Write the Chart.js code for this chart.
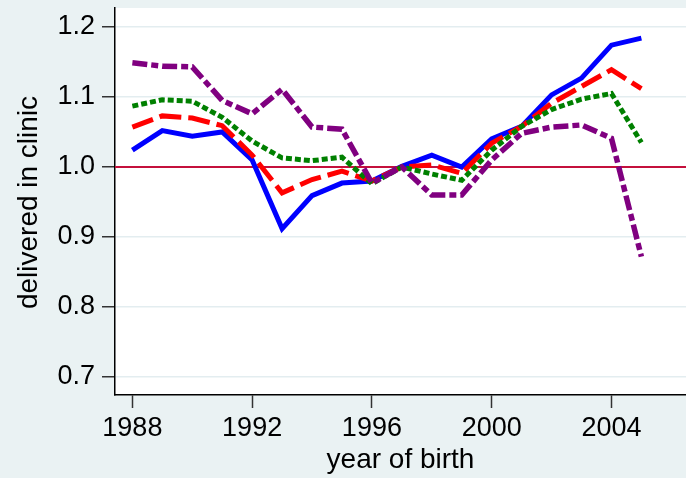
<!DOCTYPE html>
<html>
<head>
<meta charset="utf-8">
<script src="https://cdn.jsdelivr.net/npm/chart.js@4/dist/chart.umd.min.js"></script>
<style>
  html, body { margin: 0; padding: 0; background: #eaf2f3; }
  #wrap { width: 686px; height: 478px; }
</style>
</head>
<body>
<div id="wrap"><canvas id="chart" width="686" height="478"></canvas></div>
<script>
// Birth years on the horizontal axis
const years = [1988, 1989, 1990, 1991, 1992, 1993, 1994, 1995, 1996,
               1997, 1998, 1999, 2000, 2001, 2002, 2003, 2004, 2005];

// Ratio of births delivered in a clinic, one series per group
const seriesSolid   = [1.024, 1.052, 1.044, 1.050, 1.010, 0.912, 0.959, 0.977, 0.980,
                       1.001, 1.017, 1.000, 1.040, 1.058, 1.103, 1.127, 1.174, 1.184];
const seriesDash    = [1.057, 1.073, 1.070, 1.059, 1.017, 0.963, 0.982, 0.994, 0.980,
                       1.000, 1.003, 0.991, 1.034, 1.058, 1.091, 1.115, 1.139, 1.112];
const seriesDot     = [1.087, 1.096, 1.094, 1.071, 1.037, 1.013, 1.009, 1.014, 0.976,
                       1.000, 0.990, 0.981, 1.024, 1.058, 1.082, 1.097, 1.105, 1.035];
const seriesDashDot = [1.149, 1.144, 1.143, 1.095, 1.076, 1.111, 1.057, 1.054, 0.977,
                       1.000, 0.960, 0.960, 1.010, 1.048, 1.057, 1.060, 1.041, 0.872];

// Axis ticks
const xTicks = [1988, 1992, 1996, 2000, 2004];
const yTicks = [0.7, 0.8, 0.9, 1.0, 1.1, 1.2];

// Horizontal reference line
const referenceValue = 1.0;

const xTitle = 'year of birth';
const yTitle = 'delivered in clinic';

const FONT = '"Liberation Sans", Arial, Helvetica, sans-serif';
const BG = '#eaf2f3';

const toPoints = vals => vals.map((v, i) => ({ x: years[i], y: v }));

const backgroundPlugin = {
  id: 'panelBackground',
  beforeDraw(chart) {
    const { ctx, chartArea: a } = chart;
    ctx.save();
    ctx.fillStyle = BG;
    ctx.fillRect(0, 0, chart.width, chart.height);
    ctx.fillStyle = '#ffffff';
    ctx.fillRect(a.left, a.top, a.right - a.left, a.bottom - a.top);
    ctx.restore();
  }
};

const referenceLinePlugin = {
  id: 'referenceLine',
  beforeDatasetsDraw(chart) {
    const { ctx, chartArea: a, scales } = chart;
    const y = scales.y.getPixelForValue(referenceValue);
    ctx.save();
    ctx.strokeStyle = '#c4103c';
    ctx.lineWidth = 2.2;
    ctx.beginPath();
    ctx.moveTo(a.left, y);
    ctx.lineTo(a.right, y);
    ctx.stroke();
    ctx.restore();
  }
};

const axisTitlePlugin = {
  id: 'axisTitles',
  afterDraw(chart) {
    const { ctx, chartArea: a } = chart;
    ctx.save();
    ctx.fillStyle = '#000';
    ctx.font = '28px ' + FONT;
    ctx.textAlign = 'center';
    ctx.textBaseline = 'alphabetic';
    ctx.fillText(xTitle, (a.left + a.right) / 2, 468);
    ctx.translate(36.5, (a.top + a.bottom) / 2 + 1);
    ctx.rotate(-Math.PI / 2);
    ctx.fillText(yTitle, 0, 0);
    ctx.restore();
  }
};

const lineStyle = (color, dash, width) => ({
  borderColor: color,
  backgroundColor: color,
  borderWidth: width,
  borderDash: dash,
  borderCapStyle: 'butt',
  borderJoinStyle: 'miter',
  pointRadius: 0,
  tension: 0,
  fill: false
});

new Chart(document.getElementById('chart'), {
  type: 'line',
  data: {
    datasets: [
      Object.assign({ label: 'dash-dot', data: toPoints(seriesDashDot) }, lineStyle('#800080', [15, 4, 7, 4], 5.5)),
      Object.assign({ label: 'dot',      data: toPoints(seriesDot) },     lineStyle('#008000', [6, 3], 5)),
      Object.assign({ label: 'dash',     data: toPoints(seriesDash) },    lineStyle('#ff0000', [22, 7], 5)),
      Object.assign({ label: 'solid',    data: toPoints(seriesSolid) },   lineStyle('#0000ff', [], 5))
    ]
  },
  options: {
    responsive: false,
    animation: false,
    devicePixelRatio: 1,
    layout: { padding: { top: 8, right: 0, bottom: 0, left: 0 } },
    plugins: { legend: { display: false }, tooltip: { enabled: false } },
    scales: {
      x: {
        type: 'linear',
        min: 1987.42,
        max: 2006.49,
        afterBuildTicks: s => { s.ticks = xTicks.map(v => ({ value: v })); },
        afterFit: s => { s.height = 83; s.paddingLeft = 0; s.paddingRight = 0; },
        grid: { drawOnChartArea: false, tickLength: 13, tickColor: '#333', tickWidth: 1.5 },
        border: { color: '#000', width: 1.5 },
        ticks: {
          font: { family: FONT, size: 27 },
          color: '#000',
          padding: 4,
          maxRotation: 0,
          autoSkip: false,
          callback: v => String(v)
        }
      },
      y: {
        min: 0.6743,
        max: 1.2271,
        afterBuildTicks: s => { s.ticks = yTicks.map(v => ({ value: v })); },
        afterFit: s => { s.width = 115; s.paddingTop = 0; s.paddingBottom = 0; },
        grid: { color: '#e3edf0', lineWidth: 1.5, tickLength: 13, tickColor: '#333', tickWidth: 1.5 },
        border: { color: '#000', width: 1.5 },
        ticks: {
          font: { family: FONT, size: 27 },
          color: '#000',
          padding: 7,
          autoSkip: false,
          callback: v => v.toFixed(1)
        }
      }
    }
  },
  plugins: [backgroundPlugin, referenceLinePlugin, axisTitlePlugin]
});
</script>
</body>
</html>
